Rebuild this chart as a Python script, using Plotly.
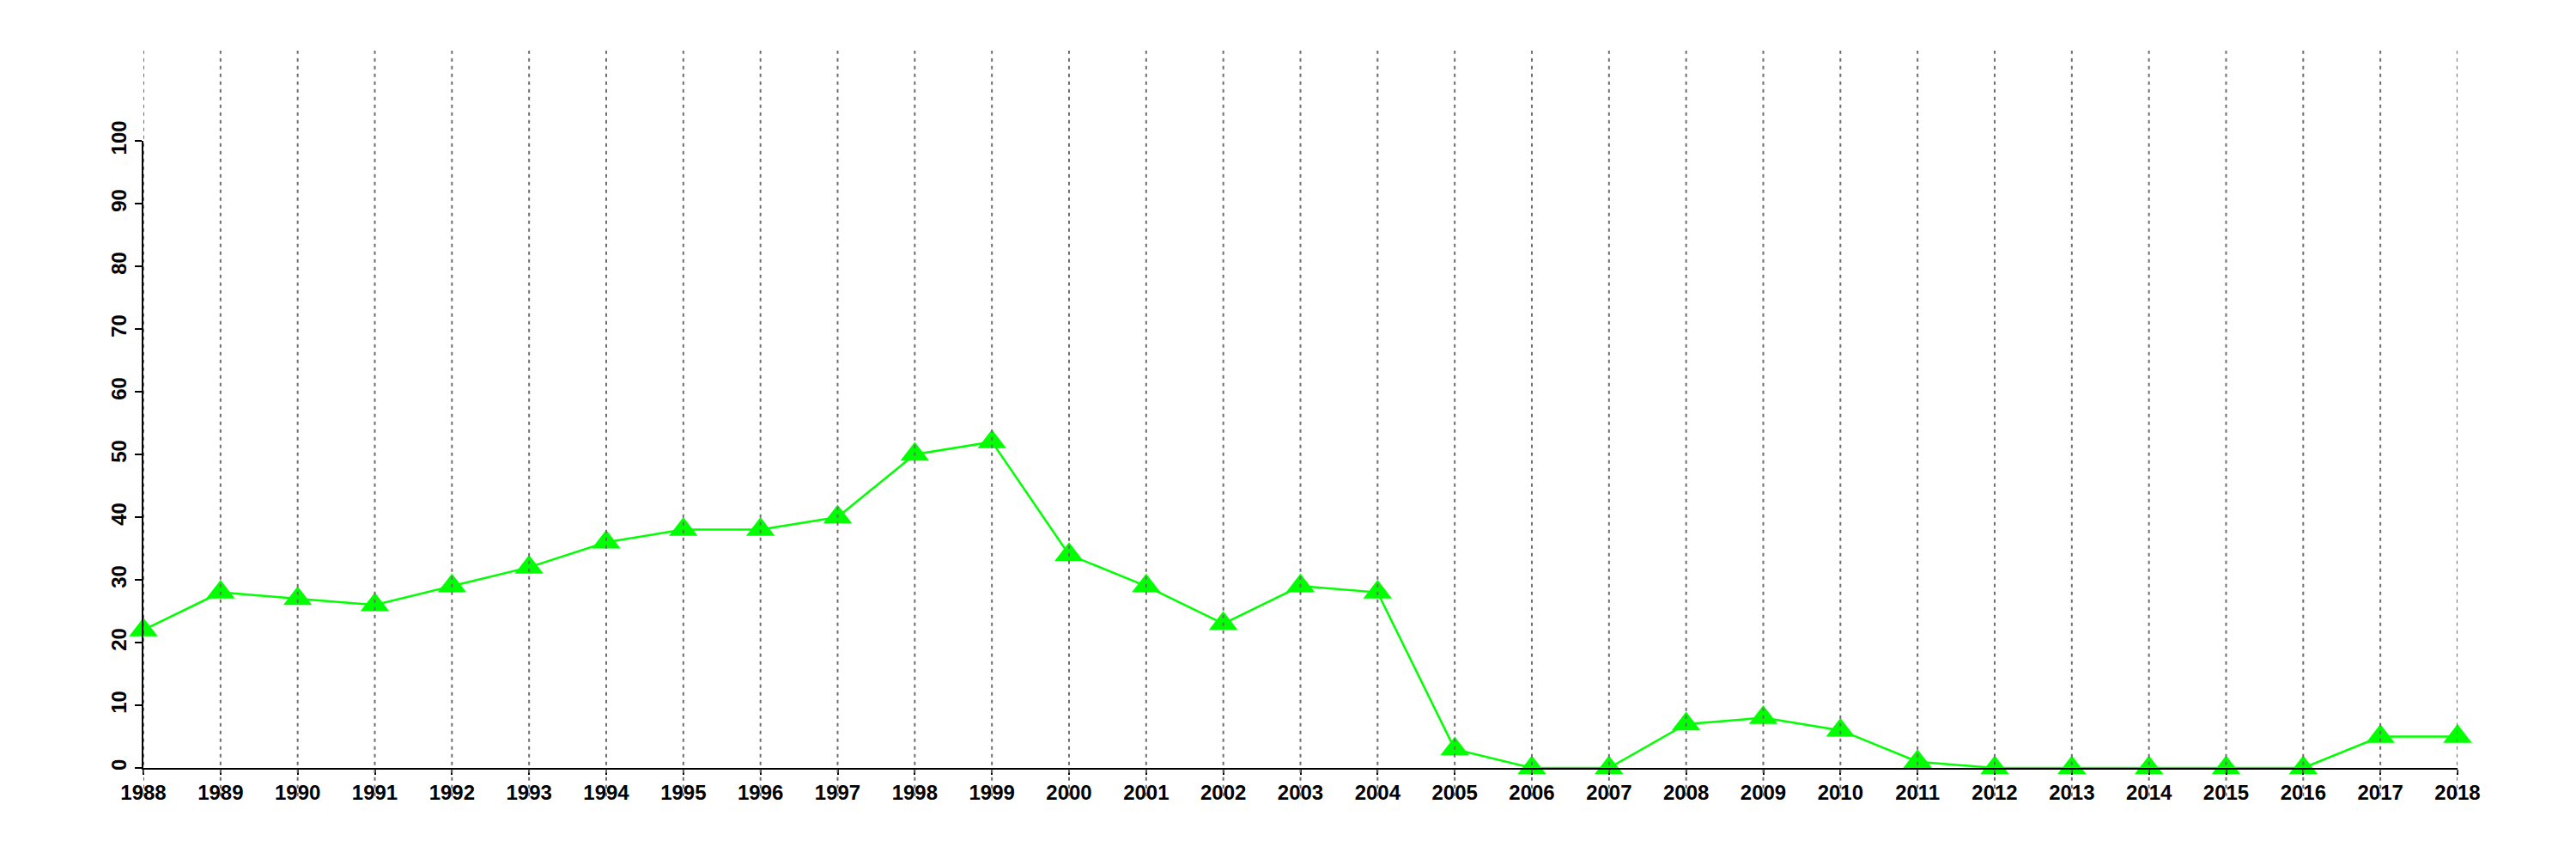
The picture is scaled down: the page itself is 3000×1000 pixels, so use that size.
import plotly.graph_objects as go

years = list(range(1988, 2019))
values = [22, 28, 27, 26, 29, 32, 36, 38, 38, 40, 50, 52, 34, 29, 23, 29, 28,
          3, 0, 0, 7, 8, 6, 1, 0, 0, 0, 0, 0, 5, 5]
y_ticks = [0, 10, 20, 30, 40, 50, 60, 70, 80, 90, 100]

fig = go.Figure()
fig.add_trace(go.Scatter(
    x=years, y=values, mode="lines+markers",
    line=dict(color="#00ff00", width=2.5),
    marker=dict(symbol="triangle-up", size=29, color="#00ff00"),
    cliponaxis=False, showlegend=False,
))

shapes = []
for yr in years:
    shapes.append(dict(type="line", xref="x", yref="paper", x0=yr, x1=yr,
                       y0=-0.045, y1=1.144, layer="above",
                       line=dict(color="#6e6e6e", width=2, dash="4px,5px")))

tickfont = dict(family="Liberation Sans, Arial, sans-serif", size=24,
                color="black", weight="bold")
fig.update_layout(
    width=3000, height=1000,
    margin=dict(l=158.7, r=146.3, t=156, b=114),
    paper_bgcolor="white", plot_bgcolor="white",
    shapes=shapes,
    xaxis=dict(range=[1988, 2018], tickmode="array", tickvals=years,
               ticktext=[str(y) for y in years], showgrid=False, zeroline=False,
               showline=True, linecolor="black", linewidth=2,
               ticks="outside", ticklen=6, tickwidth=2, tickcolor="black",
               tickfont=tickfont, layer="above traces"),
    yaxis=dict(range=[0, 100], tickmode="array", tickvals=y_ticks,
               showgrid=False, zeroline=False,
               showline=True, linecolor="black", linewidth=2,
               ticks="outside", ticklen=8, tickwidth=2, tickcolor="black",
               tickangle=-90, tickfont=tickfont, layer="above traces"),
)

fig.write_html("out.html")
